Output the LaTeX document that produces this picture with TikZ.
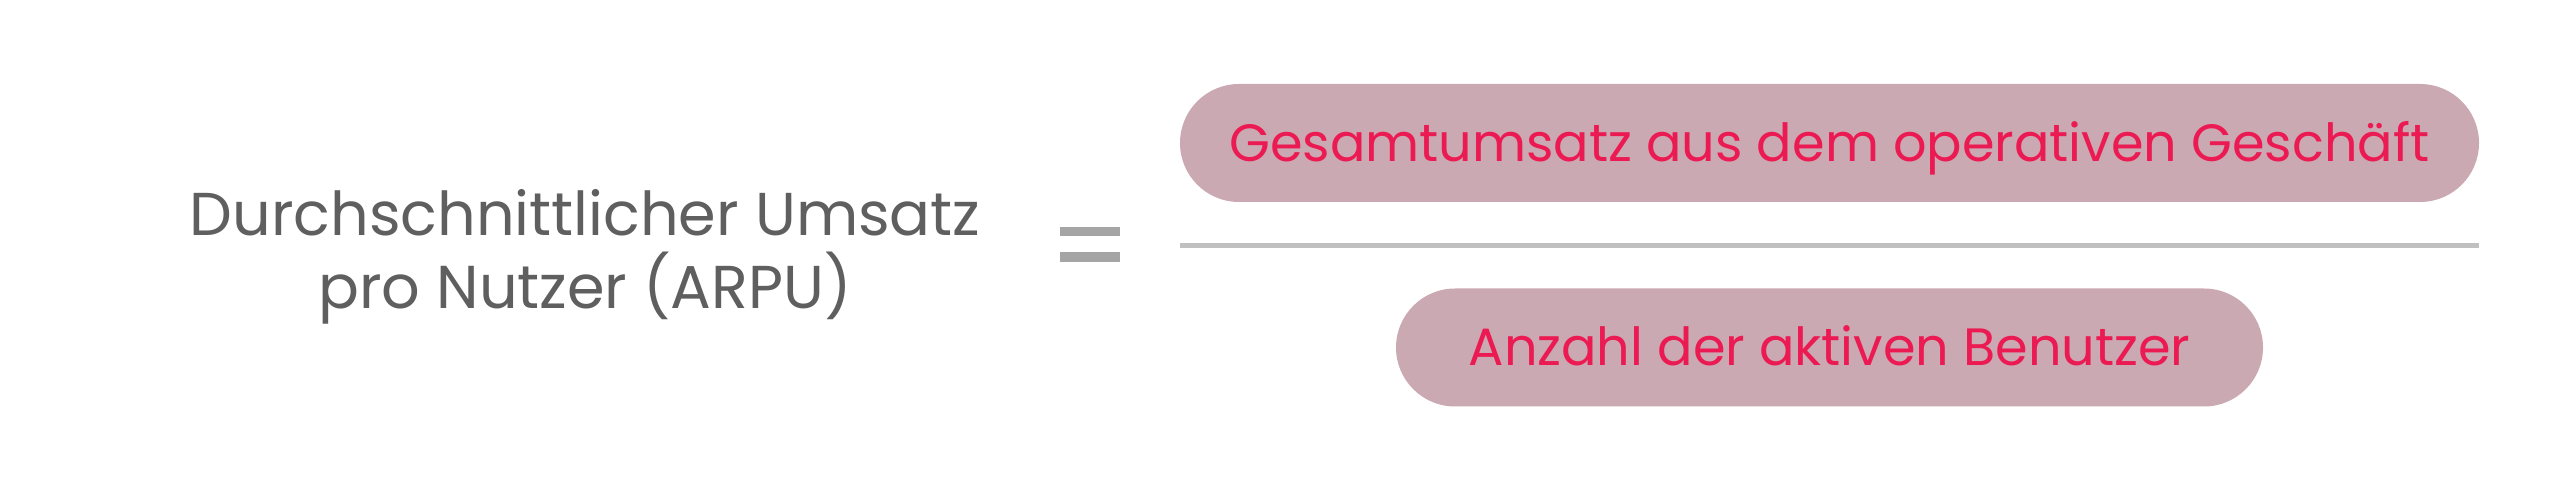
\documentclass[tikz,border=0pt]{standalone}
\usepackage{fontspec}
\setmainfont{Poppins}
\usepackage{xcolor}
\usepackage{tikz}
\usetikzlibrary{positioning}

\definecolor{labelgray}{RGB}{95,95,95}
\definecolor{eqgray}{RGB}{165,165,165}
\definecolor{linegray}{RGB}{192,192,192}
\definecolor{pillrose}{RGB}{203,169,178}
\definecolor{termpink}{RGB}{236,26,82}

\tikzset{
    term/.style={rectangle, fill=pillrose, text=termpink, rounded corners=59pt,
        minimum height=118pt, inner sep=0pt, text height=37pt, text depth=0pt,
        font=\fontsize{52.5}{60}\selectfont},
    eqbar/.style={fill=eqgray, draw=none}
}

\begin{document}
\begin{tikzpicture}[x=1pt, y=1pt]
    \useasboundingbox[fill=white] (0,0) rectangle (2560,495);
    \node[align=center, text=labelgray, inner sep=0pt, font=\fontsize{60.5}{73}\selectfont] (arpu) at (585,238) {Durchschnittlicher Umsatz\\pro Nutzer (ARPU)};
    \coordinate (eq) at (1090,250.5);
    \fill[eqbar] ([xshift=-30pt, yshift=8pt]eq) rectangle ([xshift=30pt, yshift=17.5pt]eq);
    \fill[eqbar] ([xshift=-30pt, yshift=-7.5pt]eq) rectangle ([xshift=30pt, yshift=-17.5pt]eq);
    \node[term, minimum width=1299pt] (revenue) at (1829.5,352) {Gesamtumsatz aus dem operativen Geschäft};
    \node[term, minimum width=867pt] (users) at (1829.5,147.5) {Anzahl der aktiven Benutzer};
    \draw[linegray, line width=5pt] (revenue.west |- 0,249.5) -- (revenue.east |- 0,249.5);
\end{tikzpicture}
\end{document}
